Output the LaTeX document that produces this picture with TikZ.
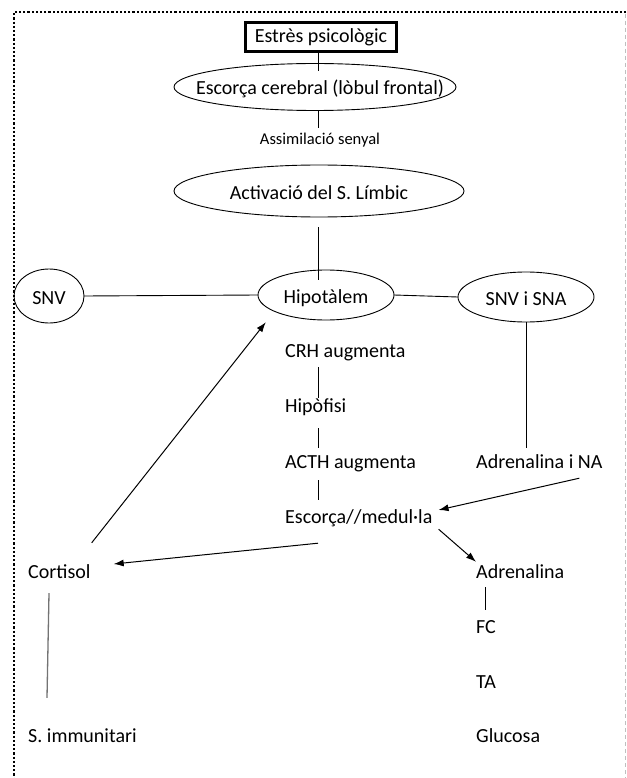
\documentclass[tikz,border=0pt]{standalone}
\usepackage{fontspec}
\setmainfont{Carlito}
\usetikzlibrary{arrows.meta}
\begin{document}
\begin{tikzpicture}[x=1pt,y=-1pt,
  every node/.style={font=\fontsize{20}{23}\selectfont, text=black},
  ovalnode/.style 2 args={minimum width=#1pt, minimum height=#2pt, inner sep=0pt, text height=21pt, text depth=5pt},
  ovalline/.style={line width=0.9pt},
  lbl/.style={anchor=west, inner sep=1pt, text height=15pt, text depth=5pt},
  conn/.style={line width=0.9pt},
  arr/.style={line width=1pt, -{Latex[length=10pt,width=7pt]}},
]
\useasboundingbox (0,0) rectangle (626,778);
\fill[white] (0,0) rectangle (626,778);
% frame
\draw[line width=2.2pt, dash pattern=on 2.2pt off 2pt] (626,12) -- (14,12) -- (14,778);
\draw[line width=1pt, black!25, dash pattern=on 4pt off 3pt] (625,14) -- (625,778);
\coordinate (col) at (318,0);

% nodes
\node[draw, line width=2.8pt, minimum width=151pt, minimum height=29pt, inner sep=0pt] (estres) at (321,37) {Estrès psicològic};
\node[ovalnode={282}{47}] (escorca) at (315,87) {\hspace*{10pt}Escorça cerebral (lòbul frontal)};
\draw[ovalline] (escorca.center) ellipse [x radius=141, y radius=23.5];
\node[font=\fontsize{16.5}{19}\selectfont, inner sep=2pt] (assim) at (320,140) {Assimilació senyal};
\node[ovalnode={290}{52}] (activ) at (319,191) {Activació del S. Límbic};
\draw[ovalline] (activ.center) ellipse [x radius=145, y radius=26];
\node[ovalnode={136}{50}] (hipo) at (326,295) {Hipotàlem};
\draw[ovalline] (hipo.center) ellipse [x radius=68, y radius=25];
\node[ovalnode={70}{54}] (snv) at (49,296) {SNV};
\draw[ovalline] (snv.center) ellipse [x radius=35, y radius=27];
\node[ovalnode={136}{50}] (snvsna) at (526,297) {SNV i SNA};
\draw[ovalline] (snvsna.center) ellipse [x radius=68, y radius=25];

\node[lbl] (crh) at (284,352) {CRH augmenta};
\node[lbl] (hipof) at (284,407) {Hipòfisi};
\node[lbl] (acth) at (284,463) {ACTH augmenta};
\node[lbl] (escm) at (284,518) {Escorça//medul·la};
\node[lbl] (adrna) at (475,463) {Adrenalina i NA};
\node[lbl] (cortisol) at (27,573) {Cortisol};
\node[lbl] (adren) at (475,573) {Adrenalina};
\node[lbl] (fc) at (475,628) {FC};
\node[lbl] (ta) at (475,683) {TA};
\node[lbl] (gluc) at (475,737) {Glucosa};
\node[lbl] (simm) at (27,737) {S. immunitari};

% connectors
\draw[conn] (estres.south -| col) -- ([yshift=-8pt]escorca.north -| col);
\draw[conn] (escorca.south -| col) -- ([yshift=3pt]assim.north -| col);
\draw[conn] ([yshift=-10pt]activ.south -| col) -- ([yshift=-10pt]hipo.north -| col);
\draw[conn] (snv.east) -- (hipo.west);
\draw[conn] (hipo.east) -- (snvsna.west);
\draw[conn] (snvsna.south) -- ([yshift=4pt]snvsna.south |- adrna.north);
\draw[conn] ([yshift=-4pt]crh.south -| col) -- ([yshift=-2pt]hipof.north -| col);
\draw[conn] ([yshift=-10pt]hipof.south -| col) -- ([yshift=4pt]acth.north -| col);
\draw[conn] ([yshift=-6pt]acth.south -| col) -- ([yshift=7pt]escm.north -| col);
\draw[arr] ([xshift=40pt,yshift=-4pt]adrna.south) -- ([xshift=5pt,yshift=8pt]escm.east);
\draw[arr] ([yshift=-14pt]escm.south -| col) -- ([xshift=22pt,yshift=9pt]cortisol.east);
\draw[arr] ([xshift=5pt]escm.south east) -- ([xshift=1pt]adren.north west);
\draw[arr] ([yshift=19pt]cortisol.north east) -- ([xshift=8pt,yshift=-2pt]hipo.south west);
\draw[conn] ([xshift=10pt,yshift=-3pt]adren.south west) -- ([xshift=10pt,yshift=7pt]fc.north west);
\draw[line width=1.3pt, black!55] ([xshift=22pt,yshift=-9pt]cortisol.south west) -- ([xshift=20pt,yshift=28pt]simm.north west);
\end{tikzpicture}
\end{document}
